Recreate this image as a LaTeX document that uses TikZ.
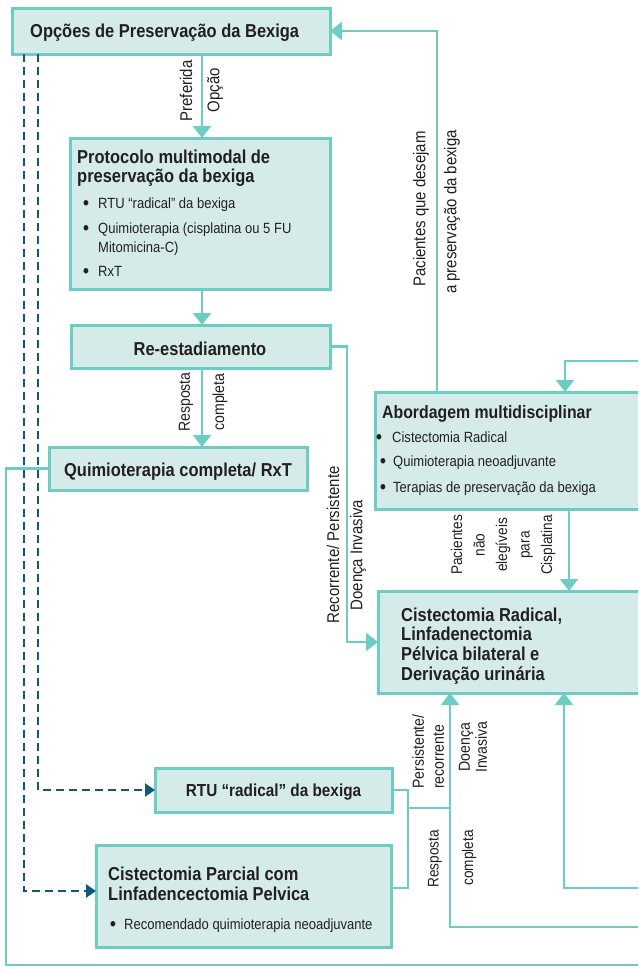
\documentclass[tikz,border=0pt]{standalone}
\usepackage{fontspec}
\setmainfont{Liberation Sans}[FakeStretch=0.88]
\usetikzlibrary{arrows.meta}

\definecolor{tealline}{HTML}{6DCCC4}
\definecolor{boxfill}{HTML}{D5EBE9}
\definecolor{navy}{HTML}{0E5A7E}
\definecolor{ink}{HTML}{231F20}

\tikzset{
  panel/.style={draw=tealline, fill=boxfill, line width=3pt, anchor=north west,
                inner sep=0pt, outer sep=0pt},
  link/.style={draw=tealline, line width=2.2pt},
  flow/.style={link, -{Triangle[width=18pt,length=12pt]}},
  dashlink/.style={draw=navy, line width=2.5pt, dash pattern=on 8pt off 5pt,
                   -{Triangle[width=13pt,length=10pt]}},
  ttl/.style={anchor=base west, inner sep=0pt, text=ink,
              font=\bfseries\fontsize{18.7}{20}\selectfont},
  body/.style={anchor=base west, inner sep=0pt, text=ink,
               font=\fontsize{14.8}{18}\selectfont},
  dot/.style={anchor=base, inner sep=0pt, text=ink,
              font=\bfseries\fontsize{19}{19}\selectfont},
  lbl/.style={rotate=90, inner sep=0pt, text=ink,
              font=\fontsize{17}{19}\selectfont},
}

\begin{document}
\begin{tikzpicture}[x=1pt,y=-1pt]
\useasboundingbox (0,0) rectangle (638,967);
\clip (0,0) rectangle (638,967);

% ---- boxes
\node[panel, minimum width=318pt, minimum height=46pt]  (opt)   at (12,8)    {};
\node[panel, minimum width=260pt, minimum height=151pt] (proto) at (70,138)  {};
\node[panel, minimum width=259pt, minimum height=43pt]  (rest)  at (71,325)  {};
\node[panel, minimum width=258pt, minimum height=43pt]  (qrt)   at (49,447)  {};
\node[panel, minimum width=280pt, minimum height=117pt] (abord) at (375,392) {};
\node[panel, minimum width=280pt, minimum height=102pt] (crad)  at (378,591) {};
\node[panel, minimum width=237pt, minimum height=44pt]  (rtu)   at (155,768) {};
\node[panel, minimum width=295pt, minimum height=102pt] (parc)  at (96,845)  {};

% ---- box texts
\node[ttl] (optT) at (30,37) {Opções de Preservação da Bexiga};

\node[ttl] (protoT1) at (77,163) {Protocolo multimodal de};
\node[ttl] (protoT2) at (77,182) {preservação da bexiga};
\node[dot] (protoB1) at (86,209) {\textbullet};
\node[body] (protoI1) at (98,208) {RTU “radical” da bexiga};
\node[dot] (protoB2) at (86,234) {\textbullet};
\node[body] (protoI2) at (98,233) {Quimioterapia (cisplatina ou 5 FU};
\node[body] (protoI2b) at (98,252) {Mitomicina-C)};
\node[dot] (protoB3) at (86,277) {\textbullet};
\node[body] (protoI3) at (98,276) {RxT};

\node[ttl, anchor=base] (restT) at (200,355) {Re-estadiamento};
\node[ttl, anchor=base] (qrtT) at (178,476) {Quimioterapia completa/ RxT};

\node[ttl, font=\bfseries\fontsize{18}{20}\selectfont] (abordT) at (382,418) {Abordagem multidisciplinar};
\node[dot] (abordB1) at (379,443) {\textbullet};
\node[body] (abordI1) at (392,442) {Cistectomia Radical};
\node[dot] (abordB2) at (383,467) {\textbullet};
\node[body] (abordI2) at (393,466) {Quimioterapia neoadjuvante};
\node[dot] (abordB3) at (383,493) {\textbullet};
\node[body] (abordI3) at (393,492) {Terapias de preservação da bexiga};

\node[ttl] (cradT1) at (401,621) {Cistectomia Radical,};
\node[ttl] (cradT2) at (401,640) {Linfadenectomia};
\node[ttl] (cradT3) at (401,660) {Pélvica bilateral e};
\node[ttl] (cradT4) at (401,680) {Derivação urinária};

\node[ttl, anchor=base, font=\bfseries\fontsize{17.4}{20}\selectfont] (rtuT) at (273.5,796) {RTU “radical” da bexiga};

\node[ttl] (parcT1) at (108,880) {Cistectomia Parcial com};
\node[ttl] (parcT2) at (108,900) {Linfadencectomia Pelvica};
\node[dot] (parcB1) at (113,930) {\textbullet};
\node[body] (parcI1) at (124,929) {Recomendado quimioterapia neoadjuvante};

% ---- free ends at the right margin and junctions
\coordinate (e1) at (645,361);
\coordinate (e2) at (645,888);
\coordinate (e3) at (645,927);
\coordinate (e4) at (645,965);
\coordinate (jn) at (408,808);
\coordinate (jm) at (450,808);

% ---- connectors
\draw[flow] (202,0 |- opt.south) -- (202,0 |- proto.north);
\draw[flow] (202,0 |- proto.south) -- (202,0 |- rest.north);
\draw[flow] (202,0 |- rest.south) -- (202,0 |- qrt.north);
\draw[flow] (rest.east) -- (347,0 |- rest.east) |- (crad.west);
\draw[flow] (437,0 |- abord.north) |- (opt.east);
\draw[flow] (e1) -| (565,0 |- abord.north);
\draw[flow] (569,0 |- abord.south) -- (569,0 |- crad.north);
\draw[flow] (e2) -| (564,0 |- crad.south);
\draw[link] (rtu.east) -- (408,0 |- rtu.east) |- (parc.east |- 0,888);
\draw[flow] (jn) -- (jm) -- (jm |- crad.south);
\draw[link] (jm) |- (e3);
\draw[link] (qrt.west) -- (6,0 |- qrt.west) |- (e4);

\draw[dashlink] (38,0 |- opt.south) |- (rtu.west);
\draw[dashlink] (24,0 |- opt.south) |- (parc.west |- 0,891);

% ---- connector labels
\node[lbl] (lPref) at (186,91) {Preferida};
\node[lbl] (lOpc) at (215,90) {Opção};
\node[lbl, font=\fontsize{16}{18}\selectfont] (lResp1) at (186,402) {Resposta};
\node[lbl, font=\fontsize{16}{18}\selectfont] (lComp1) at (220,402) {completa};
\node[lbl] (lPac1) at (421,209) {Pacientes que desejam};
\node[lbl] (lPac2) at (452,212) {a preservação da bexiga};
\node[lbl] (lRec) at (333,545) {Recorrente/ Persistente};
\node[lbl] (lDoe) at (358,555) {Doença Invasiva};
\node[lbl, align=center, font=\fontsize{15.5}{22.5}\selectfont] (lNel) at (503,545)
  {Pacientes\\não\\elegíveis\\para\\Cisplatina};
\node[lbl, align=left, anchor=north west, font=\fontsize{16}{20}\selectfont] (lPers) at (412,789)
  {Persistente/\\recorrente};
\node[lbl, align=center, font=\fontsize{16}{17}\selectfont] (lDoe2) at (473,747)
  {Doença\\Invasiva};
\node[lbl, font=\fontsize{15.5}{18}\selectfont] (lResp2) at (435,859) {Resposta};
\node[lbl, font=\fontsize{15.5}{18}\selectfont] (lComp2) at (469,858) {completa};
\end{tikzpicture}
\end{document}
